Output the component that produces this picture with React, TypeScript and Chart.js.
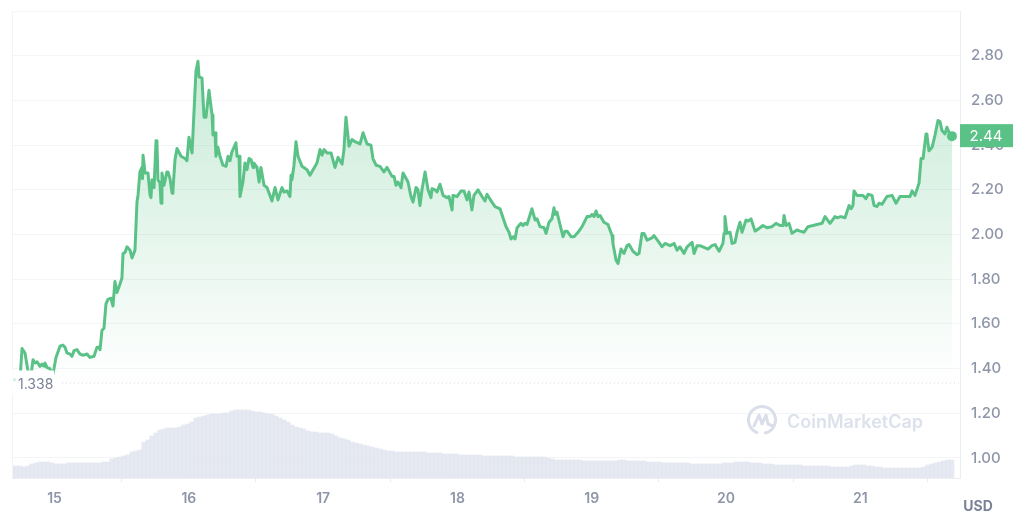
import React, { useEffect, useRef } from "react";
import { Chart, registerables } from "chart.js";

Chart.register(...registerables);

const priceDays = [
  14.683, 14.743, 14.758, 14.78, 14.802, 14.825, 14.84, 14.855, 14.87, 14.892,
  14.907, 14.922, 14.929, 14.944, 14.966, 14.981, 14.996, 15.011, 15.041, 15.063,
  15.078, 15.093, 15.115, 15.13, 15.145, 15.167, 15.19, 15.212, 15.242, 15.264,
  15.294, 15.316, 15.331, 15.339, 15.353, 15.368, 15.383, 15.398, 15.42, 15.435,
  15.45, 15.465, 15.488, 15.502, 15.51, 15.525, 15.54, 15.562, 15.577, 15.599,
  15.614, 15.622, 15.636, 15.651, 15.655, 15.659, 15.674, 15.696, 15.711, 15.718,
  15.726, 15.741, 15.756, 15.763, 15.77, 15.785, 15.793, 15.8, 15.815, 15.837,
  15.845, 15.86, 15.875, 15.882, 15.897, 15.912, 15.919, 15.942, 15.972, 15.986,
  16.001, 16.024, 16.053, 16.068, 16.076, 16.098, 16.113, 16.128, 16.15, 16.173,
  16.18, 16.195, 16.202, 16.217, 16.232, 16.254, 16.277, 16.292, 16.307, 16.321,
  16.351, 16.359, 16.374, 16.381, 16.403, 16.418, 16.433, 16.448, 16.463, 16.478,
  16.485, 16.508, 16.523, 16.537, 16.56, 16.582, 16.604, 16.619, 16.642, 16.664,
  16.694, 16.709, 16.731, 16.753, 16.761, 16.768, 16.783, 16.798, 16.813, 16.843,
  16.88, 16.902, 16.954, 16.977, 16.992, 17.007, 17.029, 17.059, 17.088, 17.111,
  17.141, 17.155, 17.17, 17.193, 17.215, 17.237, 17.275, 17.297, 17.327, 17.356,
  17.371, 17.394, 17.423, 17.453, 17.476, 17.513, 17.528, 17.543, 17.557, 17.58,
  17.595, 17.632, 17.654, 17.669, 17.692, 17.706, 17.721, 17.736, 17.759, 17.781,
  17.803, 17.811, 17.833, 17.848, 17.87, 17.893, 17.922, 17.937, 17.96, 17.967,
  17.997, 18.027, 18.049, 18.071, 18.086, 18.108, 18.123, 18.153, 18.183, 18.205,
  18.22, 18.257, 18.28, 18.317, 18.362, 18.384, 18.399, 18.414, 18.429, 18.444,
  18.473, 18.488, 18.503, 18.518, 18.555, 18.578, 18.593, 18.615, 18.645, 18.66,
  18.682, 18.704, 18.719, 18.727, 18.741, 18.786, 18.801, 18.816, 18.846, 18.868,
  18.898, 18.928, 18.965, 18.987, 19.002, 19.017, 19.032, 19.047, 19.062, 19.091,
  19.121, 19.151, 19.158, 19.181, 19.196, 19.218, 19.24, 19.263, 19.278, 19.307,
  19.337, 19.352, 19.374, 19.389, 19.412, 19.449, 19.464, 19.501, 19.523, 19.546,
  19.583, 19.613, 19.635, 19.657, 19.687, 19.71, 19.747, 19.762, 19.784, 19.806,
  19.828, 19.866, 19.895, 19.918, 19.948, 19.977, 19.985, 19.992, 20.007, 20.03,
  20.045, 20.067, 20.082, 20.104, 20.119, 20.149, 20.164, 20.186, 20.216, 20.253,
  20.275, 20.305, 20.342, 20.372, 20.402, 20.424, 20.432, 20.447, 20.469, 20.491,
  20.528, 20.551, 20.581, 20.61, 20.647, 20.677, 20.715, 20.737, 20.774, 20.811,
  20.826, 20.856, 20.886, 20.916, 20.931, 20.945, 20.953, 20.975, 21.02, 21.042,
  21.057, 21.087, 21.102, 21.124, 21.139, 21.161, 21.198, 21.236, 21.266, 21.295,
  21.333, 21.37, 21.385, 21.407, 21.437, 21.452, 21.467, 21.489, 21.496, 21.511,
  21.534, 21.556, 21.563, 21.578, 21.593, 21.608, 21.63, 21.645, 21.668, 21.682,
];

const priceValues = [
  1.35, 1.35, 1.49, 1.47, 1.39, 1.37, 1.44, 1.425, 1.43, 1.41,
  1.42, 1.41, 1.425, 1.405, 1.4, 1.36, 1.4, 1.45, 1.5, 1.505,
  1.495, 1.47, 1.465, 1.455, 1.48, 1.485, 1.465, 1.46, 1.465, 1.45,
  1.455, 1.495, 1.495, 1.485, 1.57, 1.58, 1.69, 1.71, 1.715, 1.68,
  1.79, 1.74, 1.78, 1.805, 1.915, 1.92, 1.945, 1.93, 1.895, 1.93,
  2.145, 2.177, 2.28, 2.3, 2.25, 2.355, 2.275, 2.275, 2.177, 2.165,
  2.245, 2.21, 2.42, 2.41, 2.245, 2.23, 2.14, 2.275, 2.22, 2.28,
  2.28, 2.25, 2.185, 2.2, 2.335, 2.385, 2.385, 2.35, 2.34, 2.33,
  2.435, 2.365, 2.73, 2.775, 2.705, 2.7, 2.525, 2.525, 2.645, 2.535,
  2.445, 2.455, 2.35, 2.39, 2.35, 2.31, 2.305, 2.35, 2.33, 2.37,
  2.41, 2.35, 2.35, 2.17, 2.235, 2.32, 2.29, 2.34, 2.335, 2.3,
  2.32, 2.3, 2.235, 2.3, 2.22, 2.21, 2.175, 2.15, 2.21, 2.155,
  2.21, 2.19, 2.195, 2.17, 2.265, 2.245, 2.31, 2.415, 2.35, 2.305,
  2.29, 2.265, 2.32, 2.38, 2.355, 2.38, 2.365, 2.365, 2.3, 2.345,
  2.315, 2.38, 2.525, 2.395, 2.425, 2.415, 2.405, 2.455, 2.405, 2.4,
  2.34, 2.31, 2.305, 2.28, 2.3, 2.26, 2.26, 2.22, 2.235, 2.21,
  2.275, 2.235, 2.17, 2.145, 2.21, 2.2, 2.13, 2.2, 2.28, 2.2,
  2.165, 2.205, 2.2, 2.19, 2.225, 2.175, 2.165, 2.17, 2.11, 2.175,
  2.17, 2.195, 2.195, 2.155, 2.19, 2.11, 2.175, 2.2, 2.17, 2.15,
  2.18, 2.145, 2.125, 2.115, 2.035, 2.01, 1.98, 1.99, 1.98, 2.03,
  2.05, 2.04, 2.05, 2.045, 2.115, 2.065, 2.07, 2.035, 2.03, 2.005,
  2.055, 2.07, 2.12, 2.09, 2.1, 1.99, 2.015, 2.015, 1.99, 1.99,
  2.01, 2.035, 2.08, 2.08, 2.09, 2.08, 2.105, 2.08, 2.085, 2.055,
  2.045, 1.995, 1.96, 1.885, 1.87, 1.935, 1.915, 1.95, 1.955, 1.925,
  1.91, 1.915, 2.005, 2.005, 1.975, 1.985, 1.995, 1.965, 1.945, 1.96,
  1.95, 1.96, 1.93, 1.945, 1.915, 1.945, 1.965, 1.915, 1.95, 1.95,
  1.945, 1.935, 1.95, 1.955, 1.925, 1.96, 2.005, 2.08, 2.005, 2.01,
  1.96, 1.965, 2.01, 2.055, 2.01, 2.065, 2.06, 2.07, 2.015, 2.03,
  2.04, 2.03, 2.035, 2.05, 2.04, 2.04, 2.085, 2.04, 2.05, 2.005,
  2.02, 2.015, 2.01, 2.035, 2.04, 2.045, 2.05, 2.08, 2.05, 2.08,
  2.075, 2.08, 2.075, 2.13, 2.115, 2.13, 2.195, 2.175, 2.175, 2.16,
  2.18, 2.175, 2.13, 2.125, 2.14, 2.135, 2.17, 2.175, 2.14, 2.17,
  2.17, 2.17, 2.195, 2.175, 2.23, 2.34, 2.34, 2.45, 2.445, 2.375,
  2.39, 2.445, 2.445, 2.51, 2.505, 2.465, 2.45, 2.48, 2.445, 2.44,
];

const volumeStartDay = 14.683;
const volumeStepDays = 0.02978;
const volumeValues = [
  12, 12, 12, 11, 12,
  14, 15, 16, 16, 16,
  15, 14, 14, 14, 15,
  15, 15, 15, 15, 15,
  15, 15, 15, 16, 16,
  19, 20, 21, 22, 23,
  26, 27, 28, 36, 38,
  42, 45, 48, 49, 50,
  50, 50, 51, 53, 54,
  56, 60, 61, 62, 63,
  64, 64, 64, 65, 65,
  67, 68, 68, 68, 68,
  67, 66, 66, 65, 64,
  64, 62, 60, 58, 56,
  53, 51, 50, 49, 47,
  46, 46, 45, 45, 45,
  44, 42, 40, 39, 38,
  36, 35, 34, 33, 32,
  31, 30, 29, 28, 27,
  27, 26, 26, 26, 26,
  26, 26, 26, 26, 25,
  25, 25, 25, 24, 24,
  24, 24, 23, 23, 23,
  23, 23, 23, 22, 22,
  22, 22, 22, 22, 22,
  22, 21, 21, 21, 21,
  21, 21, 21, 21, 20,
  19, 18, 18, 18, 18,
  18, 18, 18, 17, 17,
  17, 17, 17, 17, 17,
  17, 17, 18, 18, 17,
  17, 17, 17, 17, 16,
  16, 16, 16, 15, 15,
  15, 15, 15, 15, 15,
  14, 14, 14, 14, 14,
  14, 14, 14, 15, 15,
  15, 16, 16, 16, 16,
  15, 15, 15, 14, 14,
  14, 13, 13, 13, 13,
  13, 13, 13, 12, 12,
  12, 12, 12, 12, 12,
  11, 11, 11, 11, 11,
  12, 13, 13, 13, 12,
  12, 11, 11, 10, 10,
  10, 10, 10, 10, 10,
  10, 10, 10, 11, 13,
  14, 15, 16, 17, 18,
  18,
];

const openingPrice = 1.338;
const currentPriceLabel = "2.44";
const currencyLabel = "USD";
const brandName = "CoinMarketCap";

const GREEN = "#5bc287";
const GRID = "#f3f4f6";
const TEXT = "#8e95a9";
const FONT = "Inter, 'Noto Sans', sans-serif";

const overlayPlugin = {
  id: "overlay",
  afterDraw(chart: any) {
    const { ctx, chartArea, scales } = chart;
    const yPrice = scales.y;
    const openY = yPrice.getPixelForValue(openingPrice);
    const lastValue = priceValues[priceValues.length - 1];
    const lastY = yPrice.getPixelForValue(lastValue);
    ctx.save();

    // left frame line
    ctx.strokeStyle = GRID;
    ctx.lineWidth = 1;
    ctx.beginPath();
    ctx.moveTo(chartArea.left + 0.5, chartArea.top);
    ctx.lineTo(chartArea.left + 0.5, chartArea.bottom);
    ctx.stroke();

    // opening price label and dotted line
    ctx.fillStyle = "rgba(255,255,255,0.75)";
    ctx.fillRect(chartArea.left, openY - 12, 4, 24);
    ctx.fillStyle = "#ffffff";
    ctx.fillRect(chartArea.left + 4, openY - 12, 38, 24);
    ctx.strokeStyle = "#d6d8e0";
    ctx.setLineDash([1, 3]);
    ctx.beginPath();
    ctx.moveTo(chartArea.left + 50, openY + 0.5);
    ctx.lineTo(chartArea.right, openY + 0.5);
    ctx.stroke();
    ctx.setLineDash([]);
    ctx.fillStyle = "#7b8297";
    ctx.font = `400 14px ${FONT}`;
    ctx.textAlign = "left";
    ctx.textBaseline = "middle";
    ctx.fillText(openingPrice.toFixed(3), chartArea.left + 6, openY + 2);

    // current price tag
    const tagX = chartArea.right;
    ctx.fillStyle = GREEN;
    ctx.fillRect(tagX, lastY - 12, 53, 23);
    ctx.fillStyle = "#ffffff";
    ctx.font = `400 15px ${FONT}`;
    ctx.textAlign = "center";
    ctx.fillText(currentPriceLabel, tagX + 26, lastY);

    // currency
    ctx.fillStyle = "#7b8297";
    ctx.font = `700 14px ${FONT}`;
    ctx.fillText(currencyLabel, tagX + 18, chartArea.bottom + 29);

    // watermark
    const cx = chartArea.right - 198;
    const cy = chartArea.bottom - 58;
    ctx.strokeStyle = "#d9deea";
    ctx.lineWidth = 3;
    ctx.lineJoin = "round";
    ctx.lineCap = "round";
    ctx.beginPath();
    ctx.arc(cx, cy, 13.5, Math.PI * 0.62, Math.PI * 2.42);
    ctx.stroke();
    ctx.beginPath();
    ctx.moveTo(cx - 8, cy + 6);
    ctx.lineTo(cx - 3, cy - 5);
    ctx.lineTo(cx, cy + 4);
    ctx.lineTo(cx + 4, cy - 5);
    ctx.lineTo(cx + 6, cy + 4);
    ctx.lineTo(cx + 11, cy + 6);
    ctx.stroke();
    ctx.fillStyle = "#dce1ec";
    ctx.font = `600 18px ${FONT}`;
    ctx.textAlign = "left";
    ctx.fillText(brandName, cx + 25, cy + 3);
    ctx.restore();
  },
};

export default function App() {
  const ref = useRef<HTMLCanvasElement | null>(null);

  useEffect(() => {
    document.body.style.margin = "0";
    const canvas = ref.current!;
    const chart = new Chart(canvas, {
      type: "bar",
      data: {
        datasets: [
          {
            type: "line",
            order: 1,
            data: priceDays.map((d, i) => ({ x: d, y: priceValues[i] })),
            yAxisID: "y",
            borderColor: GREEN,
            borderWidth: 3,
            borderJoinStyle: "round",
            tension: 0,
            fill: { value: openingPrice },
            backgroundColor: (c: any) => {
              const area = c.chart.chartArea;
              if (!area) return "transparent";
              const y = c.chart.scales.y;
              const g = c.chart.ctx.createLinearGradient(
                0,
                y.getPixelForValue(2.8),
                0,
                y.getPixelForValue(openingPrice)
              );
              g.addColorStop(0, "rgba(91,194,135,0.34)");
              g.addColorStop(1, "rgba(91,194,135,0)");
              return g;
            },
            pointRadius: (c: any) => (c.dataIndex === priceDays.length - 1 ? 5 : 0),
            pointBackgroundColor: GREEN,
            pointBorderWidth: 0,
          } as any,
          {
            type: "bar",
            order: 2,
            data: volumeValues.map((v, i) => ({
              x: volumeStartDay + i * volumeStepDays,
              y: v,
            })),
            yAxisID: "yVolume",
            backgroundColor: "rgba(224,227,238,0.8)",
            barThickness: 4.3,
            borderWidth: 0,
          } as any,
        ],
      },
      options: {
        responsive: false,
        animation: false,
        parsing: false,
        normalized: true,
        layout: { padding: { left: 12, top: 11, right: 0, bottom: 0 } },
        plugins: { legend: { display: false }, tooltip: { enabled: false } },
        scales: {
          x: {
            type: "linear",
            min: 14.6834,
            max: 21.742,
            offset: false,
            afterFit: (s: any) => {
              s.height = 50;
              s.paddingLeft = 0;
              s.paddingRight = 0;
            },
            grid: {
              drawOnChartArea: false,
              drawTicks: true,
              tickLength: 4,
              color: "#e9ebf0",
            },
            border: { display: true, color: "#eceef2" },
            ticks: {
              stepSize: 1,
              includeBounds: false,
              maxRotation: 0,
              padding: 8,
              color: TEXT,
              font: { family: FONT, size: 14, weight: "600" },
              callback: (v: any) => String(Math.round(v)),
            },
          },
          y: {
            position: "right",
            min: 0.9105,
            max: 3.0,
            afterFit: (s: any) => {
              s.width = 64;
              s.paddingTop = 0;
              s.paddingBottom = 0;
            },
            grid: { color: GRID, drawTicks: false },
            border: { display: true, color: "#eceef2" },
            ticks: {
              stepSize: 0.2,
              includeBounds: false,
              padding: 11,
              color: TEXT,
              font: { family: FONT, size: 15, weight: "500" },
              callback: (v: any) => (v > 2.9 ? "" : Number(v).toFixed(2)),
            },
          },
          yVolume: {
            display: false,
            min: 0,
            max: 467,
          },
        },
      } as any,
      plugins: [overlayPlugin],
    });
    return () => chart.destroy();
  }, []);

  return (
    <canvas
      ref={ref}
      width={1024}
      height={528}
      style={{ display: "block", width: 1024, height: 528, background: "#fff" }}
    />
  );
}
